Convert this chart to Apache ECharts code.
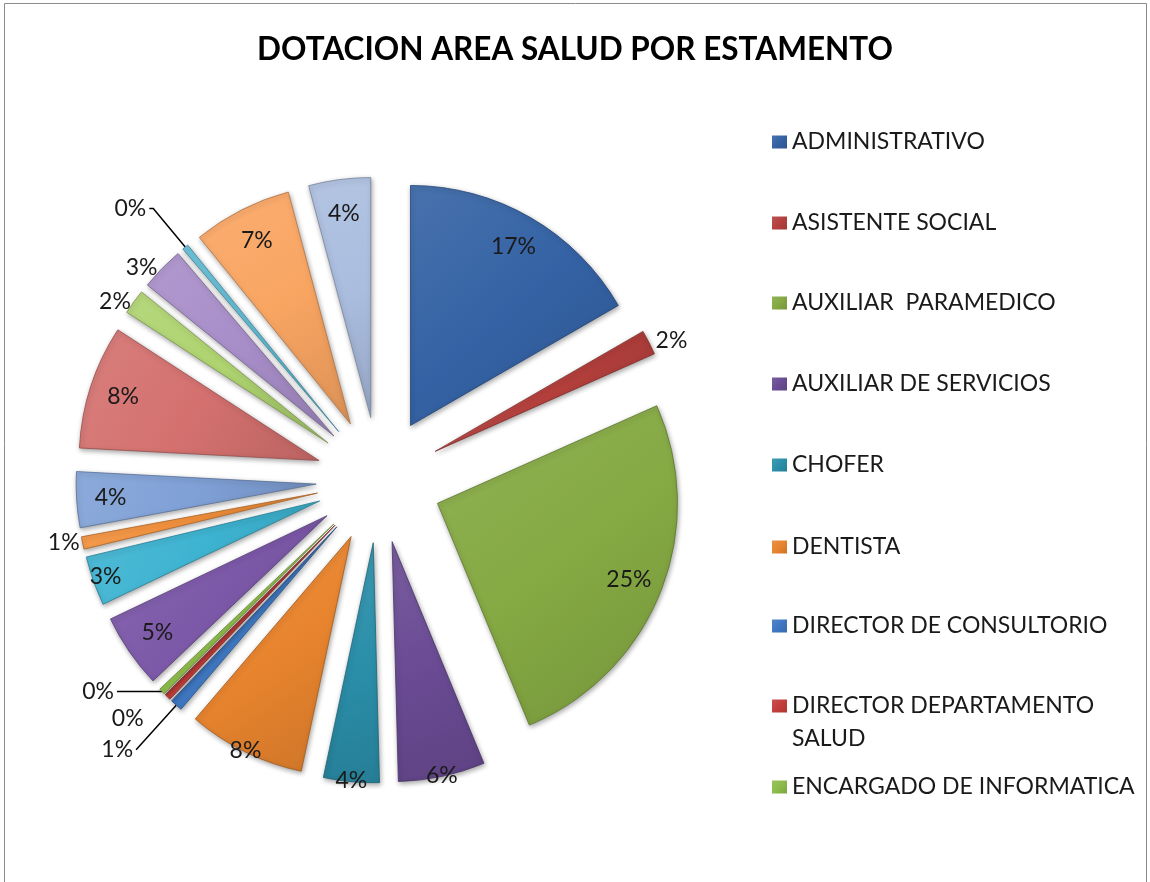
<!DOCTYPE html>
<html>
<head>
<meta charset="utf-8">
<script src="https://cdn.jsdelivr.net/npm/echarts@6/dist/echarts.min.js"></script>
<style>
  html, body { margin: 0; padding: 0; background: #ffffff; }
  #chart { width: 1150px; height: 882px; }
</style>
</head>
<body>
<div id="chart"></div>
<script>
// Dotación del área de salud, número de funcionarios por estamento
const categories = [
  'ADMINISTRATIVO', 'ASISTENTE SOCIAL', 'AUXILIAR  PARAMEDICO', 'AUXILIAR DE SERVICIOS',
  'CHOFER', 'DENTISTA', 'DIRECTOR DE CONSULTORIO', 'DIRECTOR DEPARTAMENTO SALUD',
  'ENCARGADO DE INFORMATICA', 'ENFERMERA', 'KINESIOLOGO', 'LABORATORISTA', 'MATRONA',
  'MEDICO', 'NUTRICIONISTA', 'PSICOLOGO', 'QUIMICO FARMACEUTICO',
  'TECNICO NIVEL SUPERIOR', 'TECNOLOGO MEDICO'
];
const staffCounts = [40, 4, 61, 14, 9, 19, 2, 1, 1, 12, 8, 2, 9, 20, 4, 7, 1, 16, 10];
// only the first estamentos fit in the legend column
const legendNames = categories.slice(0, 9);
const titleText = 'DOTACION AREA SALUD POR ESTAMENTO';

// ---- styling / layout ----
const palette = [
  '#3462A4', '#B5403D', '#85A943', '#6A4B94', '#2B8FAA', '#E8842E',
  '#3F78C2', '#C43E3A', '#8DBB4A', '#7C58A8', '#3DB3D1', '#F3903A',
  '#7FA0D6', '#D4716F', '#AED36F', '#A88EC9', '#5FBCD6', '#F9A562', '#AABDDF'
];
const FONT = 'Lato';
const CX = 379, CY = 480, R = 240, EXPLODE = 63;

// small slices get their percentage outside, with per-slice guide lengths
const outsideLabels = {
  1:  { len: 4,  len2: 0 },
  6:  { len: 60, len2: 0,  line: true },
  7:  { len: 30, len2: 0 },
  8:  { len: 0,  len2: 45, line: true },
  11: { len: 0,  len2: 0 },
  14: { len: 0,  len2: 0 },
  15: { len: 2,  len2: 0 },
  16: { len: 50, len2: 4,  line: true }
};
// in-slice labels: ring radius band carrying each label
const rimLabels = new Set([3, 4, 5]);
const nearRimLabels = new Set([10]);
const legendRowY = [142, 223, 303, 384, 465, 547, 626, 706, 787];

function shade(hex, f) {
  const n = parseInt(hex.slice(1), 16);
  const c = [n >> 16, (n >> 8) & 255, n & 255];
  const t = f < 0 ? 0 : 255, p = Math.abs(f);
  const o = c.map(v => Math.round((t - v) * p + v));
  return 'rgb(' + o.join(',') + ')';
}
function sliceFill(hex) {
  return {
    type: 'linear', x: 0, y: 0, x2: 1, y2: 1,
    colorStops: [
      { offset: 0, color: shade(hex, 0.1) },
      { offset: 0.5, color: hex },
      { offset: 1, color: shade(hex, -0.12) }
    ]
  };
}
const pct = p => Math.round(p.percent) + '%';
const labelText = { fontFamily: FONT, fontSize: 23, color: '#1a1a1a' };

const mainSeries = {
  type: 'pie',
  name: 'Dotación',
  center: [CX, CY],
  radius: [0, R],
  startAngle: 90,
  clockwise: true,
  selectedMode: 'multiple',
  selectedOffset: EXPLODE,
  avoidLabelOverlap: true,
  animation: false,
  emphasis: { disabled: true },
  label: { show: false },
  labelLine: { show: false },
  data: staffCounts.map((v, i) => {
    const style = {
      color: sliceFill(palette[i]),
      borderColor: shade(palette[i], -0.3),
      borderWidth: 0.8,
      shadowBlur: 5,
      shadowOffsetX: 1,
      shadowOffsetY: 2,
      shadowColor: 'rgba(0,0,0,0.35)'
    };
    const out = outsideLabels[i];
    return {
      name: categories[i],
      value: v,
      selected: true,
      itemStyle: style,
      select: { itemStyle: style },
      label: out
        ? Object.assign({ show: true, position: 'outside', formatter: pct, distanceToLabelLine: 3 }, labelText)
        : { show: false },
      labelLine: {
        show: !!(out && out.line),
        length: out ? out.len : 0,
        length2: out ? out.len2 : 0,
        smooth: false,
        lineStyle: { color: '#000', width: 1.5 }
      }
    };
  })
};

// transparent rings that carry the in-slice percentage labels
function labelRing(r0, r1, which) {
  return {
    type: 'pie',
    center: [CX, CY],
    radius: [r0, r1],
    startAngle: 90,
    clockwise: true,
    selectedMode: 'multiple',
    selectedOffset: EXPLODE,
    avoidLabelOverlap: false,
    animation: false,
    silent: true,
    legendHoverLink: false,
    emphasis: { disabled: true },
    tooltip: { show: false },
    itemStyle: { color: 'rgba(0,0,0,0)', borderWidth: 0 },
    label: Object.assign({ position: 'inside', formatter: pct }, labelText),
    labelLine: { show: false },
    data: staffCounts.map((v, i) => ({
      name: categories[i],
      value: v,
      selected: true,
      label: { show: which(i) }
    }))
  };
}
const isInside = i => !(i in outsideLabels);

// the long legend entry wraps: its second word line is set under the first
const wrapName = 'DIRECTOR DEPARTAMENTO SALUD';
const wrapSplit = 'DIRECTOR DEPARTAMENTO'.length;

const legends = legendNames.map((name, i) => ({
  data: [name],
  orient: 'vertical',
  left: 772,
  top: legendRowY[i] - 14,
  padding: 0,
  selectedMode: false,
  icon: 'rect',
  itemWidth: 15,
  itemHeight: 13,
  itemStyle: { borderWidth: 0, shadowBlur: 0 },
  formatter: n => (n === wrapName ? n.slice(0, wrapSplit) : n),
  textStyle: { fontFamily: FONT, fontSize: 23, color: '#1a1a1a', lineHeight: 28 }
}));
const wrapRow = legendNames.indexOf(wrapName);

const chart = echarts.init(document.getElementById('chart'), null, { renderer: 'canvas' });
chart.setOption({
  backgroundColor: '#ffffff',
  animation: false,
  title: {
    text: titleText,
    left: 'center',
    top: 31,
    padding: 0,
    textStyle: { fontFamily: FONT, fontWeight: 'bold', fontSize: 31.5, color: '#000', lineHeight: 38 }
  },
  legend: legends,
  graphic: [
    {
      type: 'rect',
      shape: { x: 4.5, y: 3.5, width: 1142, height: 900 },
      style: { fill: 'none', stroke: '#8c8c8c', lineWidth: 1 },
      silent: true,
      z: -1
    },
    {
      type: 'text',
      left: 792,
      top: legendRowY[wrapRow] + 33 - 14,
      style: {
        text: wrapName.slice(wrapSplit + 1),
        font: '23px ' + FONT,
        fill: '#1a1a1a',
        lineHeight: 28
      },
      silent: true
    }
  ],
  series: [
    mainSeries,
    labelRing(166, 240, i => isInside(i) && !rimLabels.has(i) && !nearRimLabels.has(i)),
    labelRing(224, 248, i => rimLabels.has(i)),
    labelRing(212, 236, i => nearRimLabels.has(i))
  ]
});
</script>
</body>
</html>
